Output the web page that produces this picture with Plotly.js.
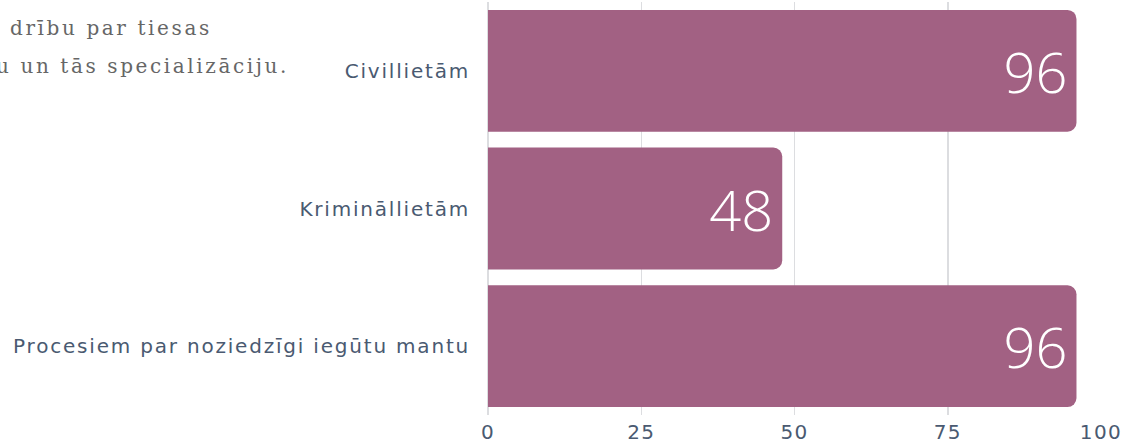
<!DOCTYPE html>
<html>
<head>
<meta charset="utf-8">
<script src="https://cdn.plot.ly/plotly-3.0.1.min.js"></script>
<style>
  html, body { margin: 0; padding: 0; background: #fff; }
  #chart { width: 1124px; height: 445px; }
  .annotation-text { letter-spacing: 2.6px; }
  .ytick text { letter-spacing: 1.8px; }
  .xtick text { letter-spacing: 1.4px; }
</style>
</head>
<body>
<div id="chart"></div>
<script>
const categories = ["Civillietām", "Krimināllietām", "Procesiem par noziedzīgi iegūtu mantu"];
const values = [96, 48, 96];
const tickValues = [0, 25, 50, 75, 100];
const tickLabels = ["0", "25", "50", "75", "100"];
const introLines = ["drību par tiesas", "u un tās specializāciju."];

const trace = {
  type: "bar",
  orientation: "h",
  y: categories,
  x: values,
  text: values.map(String),
  textposition: "inside",
  insidetextanchor: "end",
  textfont: { family: "Open Sans, sans-serif", size: 56, color: "#ffffff", weight: 300 },
  marker: { color: "#a26183", cornerradius: 9 },
  hoverinfo: "none"
};

const layout = {
  width: 1124,
  height: 445,
  margin: { l: 488, r: 23, t: 2, b: 30 },
  paper_bgcolor: "#ffffff",
  plot_bgcolor: "#ffffff",
  bargap: 0.115,
  showlegend: false,
  xaxis: {
    range: [0, 100],
    tickvals: tickValues,
    ticktext: tickLabels,
    showgrid: true,
    gridcolor: "#dcdde0",
    gridwidth: 1.5,
    zeroline: true,
    zerolinecolor: "#dcdde0",
    zerolinewidth: 1.5,
    showline: false,
    ticks: "",
    ticklabelstandoff: 3,
    tickfont: { family: "DejaVu Sans, sans-serif", size: 20, color: "#4a5a71" },
    fixedrange: true
  },
  yaxis: {
    autorange: "reversed",
    showgrid: false,
    zeroline: false,
    showline: false,
    ticks: "",
    ticklabelstandoff: 17,
    tickfont: { family: "DejaVu Sans, sans-serif", size: 20, color: "#4a5a71" },
    fixedrange: true
  },
  annotations: [
    {
      xref: "paper", yref: "paper",
      x: (8 - 488) / (1124 - 488 - 23), y: 1 + (2 - 28) / 413,
      xanchor: "left", yanchor: "middle",
      text: introLines[0], showarrow: false, align: "left",
      font: { family: "DejaVu Serif, serif", size: 20, color: "#666666" }
    },
    {
      xref: "paper", yref: "paper",
      x: (-6 - 488) / (1124 - 488 - 23), y: 1 + (2 - 66) / 413,
      xanchor: "left", yanchor: "middle",
      text: introLines[1], showarrow: false, align: "left",
      font: { family: "DejaVu Serif, serif", size: 20, color: "#666666" }
    }
  ]
};

Plotly.newPlot("chart", [trace], layout, { displayModeBar: false, staticPlot: true });
</script>
</body>
</html>
